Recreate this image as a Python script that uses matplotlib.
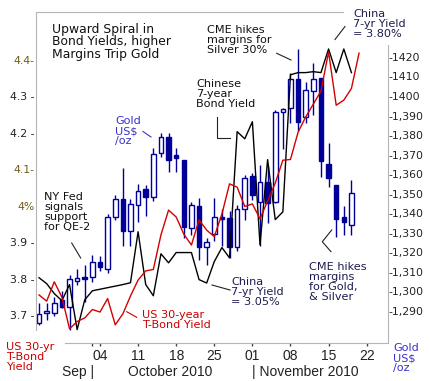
import matplotlib
matplotlib.use('Agg')
import matplotlib.pyplot as plt
from matplotlib.lines import Line2D

W, H = 430, 381

# ---------------- data ----------------
# trading-day index (0 = Mon 4 Oct 2010)
day_index = list(range(-8, 34))
gold_open = [1284, 1289, 1289, 1295.6, 1292, 1305.5, 1307.6, 1307.6, 1315.2, 1311.5,
             1338.3, 1347.2, 1331, 1344.3, 1352.3, 1348.2, 1370.7, 1379.2, 1369.8, 1367.3,
             1332.3, 1343.7, 1322.9, 1329.4, 1338, 1337.4, 1322.6, 1342, 1359.1, 1346,
             1356, 1346, 1392, 1393.7, 1408.6, 1389.5, 1402.6, 1409.4, 1365.2, 1354.5,
             1338, 1334]
gold_high = [1294, 1294.3, 1297.3, 1300, 1308.4, 1311.5, 1313.5, 1318.7, 1318.2, 1339.7,
             1349.4, 1363.4, 1347.2, 1354.9, 1354.5, 1373.3, 1381, 1381, 1373.3, 1367.3,
             1346, 1347.7, 1327.2, 1347.7, 1342, 1341.3, 1344.3, 1359.6, 1360.5, 1364.7,
             1364, 1393, 1394, 1411.7, 1424, 1407.4, 1417, 1409.4, 1375.8, 1354.5,
             1343.7, 1357]
gold_low = [1283, 1285.5, 1287.5, 1291.4, 1280, 1303.3, 1294.8, 1305, 1310.3, 1309.6,
            1336.6, 1323, 1323.3, 1335.7, 1338.8, 1346.5, 1369, 1361.3, 1361.3, 1327.2,
            1328.9, 1316.1, 1313.5, 1326, 1323.3, 1317, 1320.9, 1336.6, 1346.8, 1323,
            1335, 1345, 1373, 1386, 1382, 1386, 1390.3, 1358.7, 1353.3, 1327.7,
            1328.9, 1329]
gold_close = [1288.5, 1289.8, 1294.3, 1292, 1306.2, 1306.7, 1306.4, 1315.2, 1312.4, 1338.3,
              1347.2, 1331, 1344.6, 1351.6, 1348.2, 1370.2, 1379.2, 1367.3, 1368.2, 1332.8,
              1344.3, 1322.6, 1325.5, 1338, 1337.3, 1322.9, 1342, 1357.9, 1349.4, 1356,
              1345.5, 1392, 1393.2, 1408.6, 1386.9, 1403.1, 1408.6, 1366.9, 1357.9, 1337,
              1335.4, 1350.2]

us30_index = list(range(-8, 35))
us30_yield = [3.755, 3.738, 3.791, 3.749, 3.662, 3.682, 3.692, 3.715, 3.708, 3.745,
              3.673, 3.703, 3.752, 3.796, 3.821, 3.825, 3.920, 3.988, 3.969, 3.922,
              3.892, 3.961, 3.933, 3.915, 3.977, 4.060, 4.051, 3.998, 4.005, 3.964,
              4.013, 4.062, 4.125, 4.127, 4.202, 4.244, 4.279, 4.315, 4.422, 4.276,
              4.290, 4.322, 4.419]

china_index = list(range(-8, 34))
china7_yield = [3.067, 3.048, 3.016, 2.993, 3.045, 2.900, 2.996, 3.025, 3.030, 3.035,
                3.040, 3.045, 3.051, 3.215, 3.045, 3.009, 3.144, 3.115, 3.148, 3.148,
                3.148, 3.061, 3.050, 3.119, 3.164, 3.131, 3.537, 3.514, 3.569, 3.173,
                3.447, 3.254, 3.279, 3.720, 3.727, 3.727, 3.730, 3.727, 3.803, 3.727,
                3.803, 3.727]

x_ticks = [0, 5, 10, 15, 20, 25, 30, 35]
x_tick_labels = ['04', '11', '18', '25', '01', '08', '15', '22']
left_ticks = [4.4, 4.3, 4.2, 4.1, 4.0, 3.9, 3.8, 3.7]
left_labels = ['4.4-', '4.3 -', '4.2 -', '4.1-', '4%', '3.9 -', '3.8 -', '3.7 -']
right_ticks = [1420, 1410, 1400, 1390, 1380, 1370, 1360, 1350, 1340, 1330, 1320, 1310, 1300, 1290]
right_labels = ['-1420', '-1410', '-1400', '-1,390', '-1,380', '-1,370', '-1,360', '-1,350',
                '-1,340', '-1,330', '-1,320', '-1,310', '-1,300', '-1,290']

# ---------------- figure ----------------
fig = plt.figure(figsize=(W / 100, H / 100), dpi=100)
fig.patch.set_facecolor('white')
rect = [36 / W, (H - 343) / H, (388 - 36) / W, (343 - 12) / H]
XLIM = (-8.40, 37.80)
NAVY = '#000099'
GRID = '#b4b4b4'

# gold candles (bottom layer)
axg = fig.add_axes(rect)
axg.set_xlim(*XLIM)
axg.set_ylim(1273.6, 1443.0)
for s in ['left', 'top', 'bottom']:
    axg.spines[s].set_visible(False)
axg.spines['right'].set_color(GRID)
axg.spines['right'].set_bounds(1273.6, 1426)
axg.yaxis.tick_right()
axg.set_yticks(right_ticks)
axg.set_yticklabels(right_labels)
axg.tick_params(axis='y', length=0, pad=0, labelsize=7.8, labelcolor='#222222')
axg.set_xticks([])

for i, o, h, l, c in zip(day_index, gold_open, gold_high, gold_low, gold_close):
    axg.vlines(i, l, h, color=NAVY, lw=1.0, zorder=2)
    lo, hi = min(o, c), max(o, c)
    ht = max(hi - lo, 0.7)
    if c >= o:
        axg.bar(i, ht, bottom=lo, width=0.6, facecolor='white', edgecolor=NAVY, lw=1.0, zorder=3)
    else:
        axg.bar(i, ht, bottom=lo, width=0.6, facecolor=NAVY, edgecolor=NAVY, lw=1.0, zorder=3)

# China 7-yr yield (hidden scale)
axc = fig.add_axes(rect, facecolor='none')
axc.set_xlim(*XLIM)
axc.set_ylim(2.857, 3.922)
axc.axis('off')
axc.plot(china_index, china7_yield, color='black', lw=1.0)

# US 30-yr yield (left scale)
axu = fig.add_axes(rect, facecolor='none')
axu.set_xlim(*XLIM)
axu.set_ylim(3.623, 4.532)
axu.plot(us30_index, us30_yield, color='#d40000', lw=1.0)
axu.spines['right'].set_visible(False)
for s in ['left', 'top', 'bottom']:
    axu.spines[s].set_color(GRID)
axu.spines['left'].set_bounds(3.659, 4.532)
axu.spines['top'].set_bounds(XLIM[0], 31.9)
axu.spines['bottom'].set_bounds(-4.6, XLIM[1])
axu.set_yticks(left_ticks)
axu.set_yticklabels(left_labels)
axu.tick_params(axis='y', length=0, pad=1, labelsize=7.8, labelcolor='#222222')
for lab, t in zip(axu.get_yticklabels(), left_labels):
    if t in ('4.4-', '4.1-', '4%'):
        lab.set_color('#6e5c14')
axu.set_xticks(x_ticks)
axu.set_xticklabels(x_tick_labels, fontfamily='Liberation Sans', fontsize=10, color='#222222')
axu.set_xticks([-1], minor=True)
axu.tick_params(axis='x', which='both', length=2.5, width=1, color='#444444', pad=1.5)


def ftxt(x, y_first, s, color, size=8.1, spacing=13.2, family='DejaVu Sans'):
    n = s.count('\n') + 1
    yc = y_first + (n - 1) * spacing / 2
    ls = spacing / (size * 100 / 72 * 1.164)
    fig.text(x / W, 1 - yc / H, s, color=color, fontsize=size, family=family,
             ha='left', va='center', linespacing=ls)


def lead(xs, ys, color='#222222'):
    fig.add_artist(Line2D([x / W for x in xs], [1 - y / H for y in ys],
                          transform=fig.transFigure, color=color, lw=0.8))


BLUE = '#3a30c8'
RED = '#cc0000'
DNAVY = '#1c1c50'
ftxt(52, 28, 'Upward Spiral in\nBond Yields, higher\nMargins Trip Gold', '#111111', size=8.9, spacing=14)
ftxt(207, 27, 'CME hikes\nmargins for\nSilver 30%', '#111111')
ftxt(353, 10.5, 'China\n7-yr Yield\n= 3.80%', DNAVY)
ftxt(196.5, 81, 'Chinese\n7-year\nBond Yield', '#111111')
ftxt(115, 118, 'Gold\nUS$\n/oz', BLUE)
ftxt(44, 192, 'NY Fed\nsignals\nsupport\nfor QE-2', '#111111')
ftxt(142.5, 313, 'US 30-year\nT-Bond Yield', RED)
ftxt(231, 279, 'China\n7-yr Yield\n= 3.05%', DNAVY)
ftxt(309, 262, 'CME hikes\nmargins\nfor Gold,\n& Silver', DNAVY)
ftxt(6, 344, 'US 30-yr\nT-Bond\nYield', RED)
ftxt(393, 345, 'Gold\nUS$\n/oz', BLUE)

lead([276.7, 291], [53.3, 60])
lead([335, 345], [39.5, 26.5])
lead([216.7, 216.7, 230], [116.7, 138.3, 138.3])
lead([143, 151], [131.5, 137], BLUE)
lead([71.7, 80.7], [243, 258])
lead([126.7, 136.7], [311.7, 317.3], RED)
lead([212, 230], [285, 290])
lead([331.7, 322.3, 331], [230, 241.7, 251.7])

for x, s in [(62, 'Sep |'), (128, 'October 2010'), (252, '| November 2010')]:
    fig.text(x / W, 1 - 372 / H, s, fontsize=10, family='Liberation Sans', color='#222222',
             ha='left', va='center')

fig.savefig('out.png', dpi=100)
